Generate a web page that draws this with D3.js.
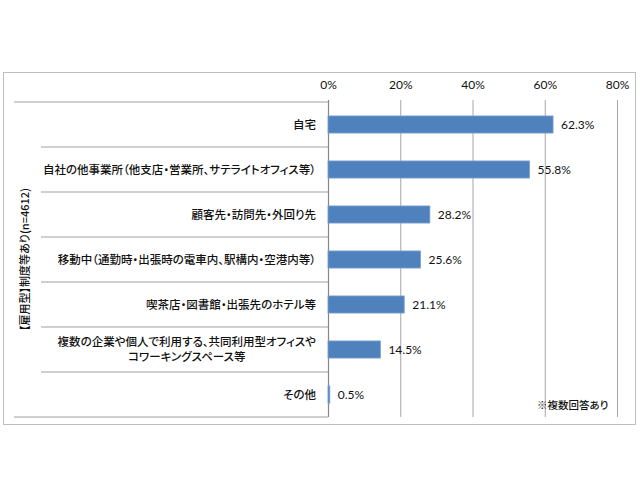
<!DOCTYPE html>
<html>
<head>
  <meta charset="utf-8">
  <script src="https://d3js.org/d3.v7.min.js"></script>
  <style>
    body { margin: 0; background: #fff; }
    .jp { font-family: "Noto Sans CJK JP", sans-serif; font-feature-settings: "palt"; font-weight: 500; }
    .num { font-family: Lato, "Liberation Sans", sans-serif; }
  </style>
</head>
<body>
<script>
// category labels (multi-line labels as arrays)
var categories = [
  ["自宅"],
  ["自社の他事業所（他支店・営業所、サテライトオフィス等）"],
  ["顧客先・訪問先・外回り先"],
  ["移動中（通勤時・出張時の電車内、駅構内・空港内等）"],
  ["喫茶店・図書館・出張先のホテル等"],
  ["複数の企業や個人で利用する、共同利用型オフィスや", "コワーキングスペース等"],
  ["その他"]
];
var values = [62.3, 55.8, 28.2, 25.6, 21.1, 14.5, 0.5];
var ticks = [0, 20, 40, 60, 80];
var groupLabel = "【雇用型】制度等あり(n=4612)";
var note = "※複数回答あり";

var width = 640, height = 500;
var plotTop = 102, plotBottom = 417;

var svg = d3.select("body").append("svg")
  .attr("width", width)
  .attr("height", height);

// outer frame
svg.append("rect")
  .attr("x", 3.5).attr("y", 72.5)
  .attr("width", 632).attr("height", 352)
  .attr("fill", "#fff")
  .attr("stroke", "#bfbfbf");

var x = d3.scaleLinear().domain([0, 80]).range([328, 617]);
var y = d3.scaleBand()
  .domain(d3.range(categories.length))
  .range([plotTop, plotBottom])
  .paddingInner(0.62)
  .paddingOuter(0.31);

// axis on top with gridlines
var axis = svg.append("g")
  .attr("transform", "translate(0,100)")
  .call(d3.axisTop(x).tickValues(ticks).tickFormat(function (d) { return d + "%"; })
    .tickSize(-(plotBottom - 100)).tickPadding(11));
axis.select(".domain").remove();
axis.selectAll("line")
  .attr("stroke", function (d) { return d === 0 ? "#868686" : "#a6a6a6"; })
  .attr("stroke-width", function (d) { return d === 0 ? 1.2 : 1; });
axis.selectAll("text")
  .attr("class", "num")
  .attr("font-size", 12)
  .attr("fill", "#111");

// category table lines
var step = y.step();
svg.append("line")
  .attr("x1", 14).attr("x2", x(0))
  .attr("y1", plotTop).attr("y2", plotTop)
  .attr("stroke", "#a0a0a0");
svg.append("line")
  .attr("x1", 14).attr("x2", x(0))
  .attr("y1", plotBottom).attr("y2", plotBottom)
  .attr("stroke", "#a0a0a0");
svg.selectAll("line.row")
  .data(d3.range(1, categories.length))
  .enter().append("line")
  .attr("class", "row")
  .attr("x1", 41).attr("x2", x(0))
  .attr("y1", function (i) { return plotTop + i * step; })
  .attr("y2", function (i) { return plotTop + i * step; })
  .attr("stroke", "#a0a0a0");

// bars
svg.selectAll("rect.bar")
  .data(values)
  .enter().append("rect")
  .attr("class", "bar")
  .attr("x", x(0))
  .attr("y", function (d, i) { return y(i); })
  .attr("width", function (d) { return x(d) - x(0); })
  .attr("height", y.bandwidth())
  .attr("fill", "#4f81bd")
  .attr("stroke", "#7ba0cf")
  .attr("stroke-width", 0.8);

// value labels
svg.selectAll("text.val")
  .data(values)
  .enter().append("text")
  .attr("class", "num")
  .attr("x", function (d) { return x(d) + 8; })
  .attr("y", function (d, i) { return y(i) + y.bandwidth() / 2; })
  .attr("dy", "0.35em")
  .attr("font-size", 12)
  .attr("fill", "#111")
  .text(function (d) { return d.toFixed(1) + "%"; });

// category labels
var labelRight = 316;
categories.forEach(function (lines, i) {
  var cy = y(i) + y.bandwidth() / 2;
  var g = svg.append("g");
  var t = g.selectAll("text").data(lines).enter().append("text")
    .attr("class", "jp")
    .attr("font-size", 11.5)
    .attr("fill", "#111")
    .attr("y", function (d, j) { return cy + (j - (lines.length - 1) / 2) * 14.5; })
    .attr("dy", "0.35em")
    .text(function (d) { return d; });
  var widths = [];
  t.each(function () { widths.push(this.getComputedTextLength()); });
  var maxW = d3.max(widths);
  var center = labelRight - maxW / 2;
  t.attr("text-anchor", "middle").attr("x", center);
});

// rotated group label
svg.append("text")
  .attr("class", "jp")
  .attr("font-size", 11)
  .attr("fill", "#111")
  .attr("text-anchor", "middle")
  .attr("transform", "translate(25," + ((plotTop + plotBottom) / 2) + ") rotate(-90)")
  .attr("dy", "0.35em")
  .text(groupLabel);

// note
svg.append("text")
  .attr("class", "jp")
  .attr("font-size", 10.5)
  .attr("fill", "#111")
  .attr("x", 537)
  .attr("y", 405)
  .attr("dy", "0.35em")
  .text(note);
</script>
</body>
</html>
